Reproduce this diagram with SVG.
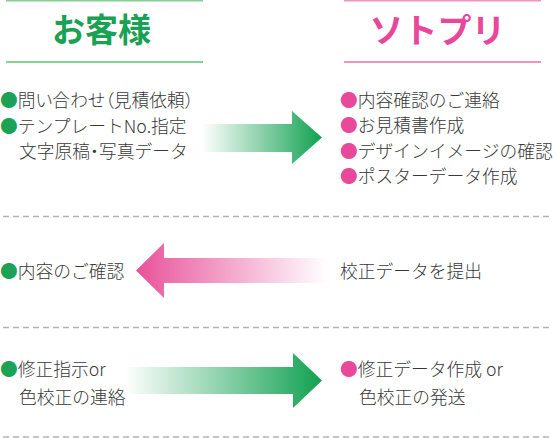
<svg xmlns="http://www.w3.org/2000/svg" width="556" height="438" viewBox="0 0 556 438">
<style>
text{font-family:"Noto Sans CJK JP","Noto Sans",sans-serif;font-size:17.75px;font-weight:300;fill:#383838}
.g{fill:#1ba257}
.p{fill:#e8499b}
.pa{font-feature-settings:"palt"}
.hg{font-size:33px;font-weight:bold;fill:#1aa152}
.hp{font-size:34px;font-weight:600;fill:#e8479a}
.lg{stroke:#86d193;stroke-width:2}
.lp{stroke:#f093c0;stroke-width:2}
.dash{stroke:#b4b4b4;stroke-width:1.5;stroke-dasharray:6 4}
</style>
<defs>
<linearGradient id="gg1" gradientUnits="userSpaceOnUse" x1="202" y1="0" x2="322" y2="0">
<stop offset="0" stop-color="#1ba257" stop-opacity="0"/>
<stop offset="1" stop-color="#10a150" stop-opacity="1"/>
</linearGradient>
<linearGradient id="gg2" gradientUnits="userSpaceOnUse" x1="125" y1="0" x2="322" y2="0">
<stop offset="0" stop-color="#1ba257" stop-opacity="0"/>
<stop offset="1" stop-color="#10a150" stop-opacity="1"/>
</linearGradient>
<linearGradient id="pg" gradientUnits="userSpaceOnUse" x1="136" y1="0" x2="327" y2="0">
<stop offset="0" stop-color="#e8529a" stop-opacity="1"/>
<stop offset="1" stop-color="#e8529a" stop-opacity="0"/>
</linearGradient>
</defs>

<g id="header-customer">
<line class="lg" x1="6" y1="0.5" x2="203" y2="0.5"/>
<text class="hg" x="101.5" y="41.5" text-anchor="middle">お客様</text>
<line class="lg" x1="6" y1="62" x2="203" y2="62"/>
</g>
<g id="header-sotopuri">
<line class="lp" x1="344" y1="0.5" x2="541" y2="0.5"/>
<text class="hp" x="437.5" y="43" text-anchor="middle">ソトプリ</text>
<line class="lp" x1="344" y1="62" x2="541" y2="62"/>
</g>

<g id="dividers">
<line class="dash" x1="3" y1="216.5" x2="552" y2="216.5"/>
<line class="dash" x1="3" y1="327.5" x2="552" y2="327.5"/>
<line class="dash" x1="3" y1="437" x2="552" y2="437"/>
</g>

<g id="customer-step1">
<text x="0" y="106.5"><tspan class="g">●</tspan><tspan class="pa">問い合わせ（見積依頼）</tspan></text>
<text x="0" y="132.5"><tspan class="g">●</tspan>テンプレートNo.指定</text>
<text x="19" y="158">文字原稿<tspan class="pa">・</tspan>写真データ</text>
</g>
<g id="sotopuri-step1">
<text x="340" y="106.5"><tspan class="p">●</tspan>内容確認のご連絡</text>
<text x="340" y="132"><tspan class="p">●</tspan>お見積書作成</text>
<text x="340" y="158"><tspan class="p">●</tspan>デザインイメージの確認</text>
<text x="340" y="183"><tspan class="p">●</tspan>ポスターデータ作成</text>
</g>
<g id="customer-step2">
<text x="0" y="277.5"><tspan class="g">●</tspan>内容のご確認</text>
</g>
<g id="sotopuri-step2">
<text x="340" y="277.5">校正データを提出</text>
</g>
<g id="customer-step3">
<text x="0" y="375.5"><tspan class="g">●</tspan>修正指示or</text>
<text x="19" y="403.5">色校正の連絡</text>
</g>
<g id="sotopuri-step3">
<text x="340" y="375.5"><tspan class="p">●</tspan>修正データ作成 or</text>
<text x="359" y="403.5">色校正の発送</text>
</g>

<g id="connectors">
<polygon fill="url(#gg1)" points="202,124 292,124 292,111 322,137.5 292,164 292,152 202,152"/>
<polygon fill="url(#pg)" points="327,258 164,258 164,243 136,270.5 164,298 164,283 327,283"/>
<polygon fill="url(#gg2)" points="125,367 293,367 293,353 322,380.5 293,408 293,394 125,394"/>
</g>
</svg>
